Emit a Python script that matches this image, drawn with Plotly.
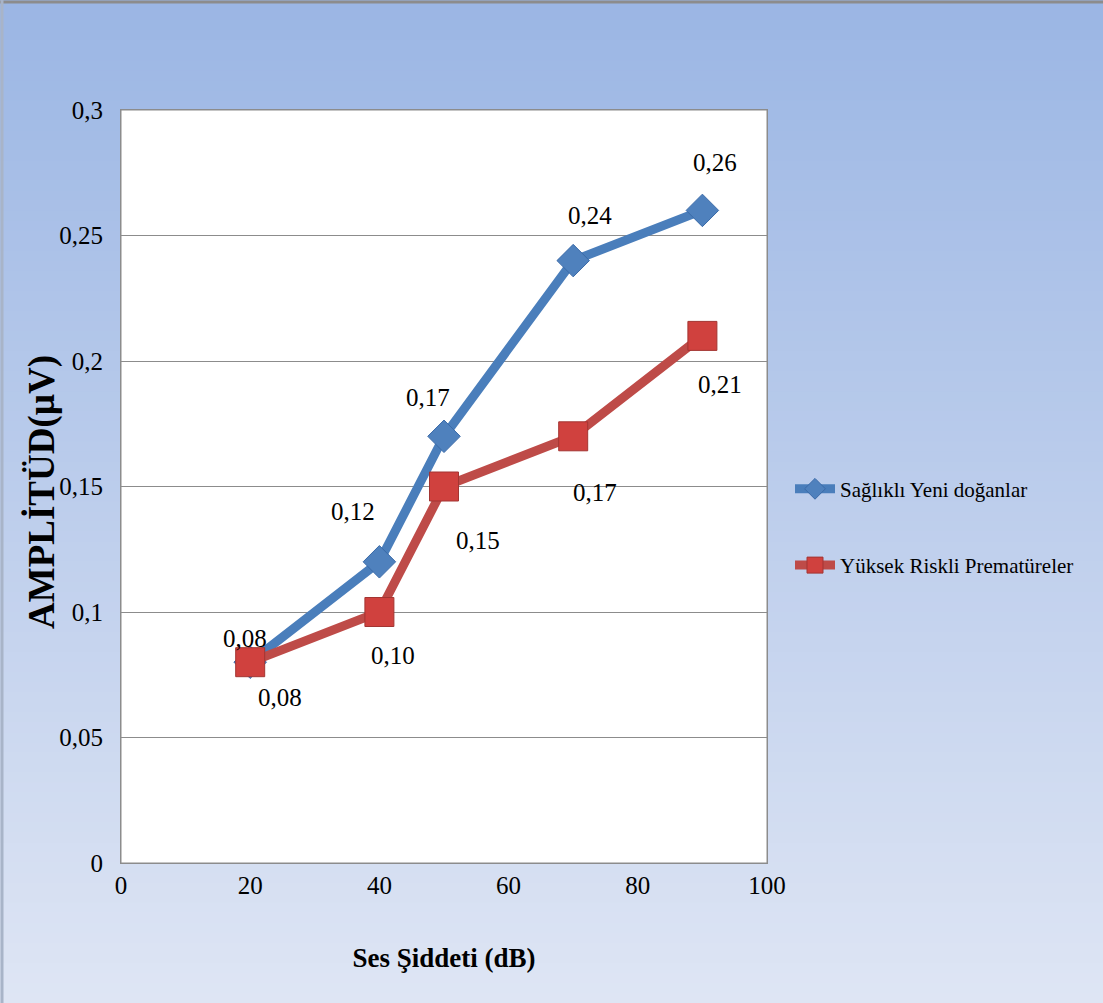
import plotly.graph_objects as go

# Sound intensity levels (dB) and amplitude values (µV)
ses_db = [20, 40, 50, 70, 90]
saglikli = [0.08, 0.12, 0.17, 0.24, 0.26]
prematur = [0.08, 0.10, 0.15, 0.17, 0.21]
y_ticks = [0, 0.05, 0.1, 0.15, 0.2, 0.25, 0.3]
y_tick_text = ["0", "0,05", "0,1", "0,15", "0,2", "0,25", "0,3"]
x_ticks = [0, 20, 40, 60, 80, 100]

name_a = "Sağlıklı Yeni doğanlar"
name_b = "Yüksek Riskli Prematüreler"

W, H = 1103, 1003
L, R, T, B = 121, 336, 110, 140
PW, PH = W - L - R, H - T - B

FONT = "Liberation Serif, Times New Roman, serif"
BLUE = "#4A7EBB"
RED = "#BE4B48"


def fmt(v):
    return f"{v:.2f}".replace(".", ",")


fig = go.Figure()

fig.add_trace(go.Scatter(
    x=ses_db, y=saglikli, name=name_a, mode="lines+markers",
    legendgroup="a",
    line=dict(color=BLUE, width=9),
    marker=dict(symbol="diamond", size=25, color="#4F81BD",
                line=dict(color="#3A6AA8", width=1)),
))
fig.add_trace(go.Scatter(
    x=ses_db, y=prematur, name=name_b, mode="lines+markers",
    legendgroup="b",
    line=dict(color=RED, width=9),
    marker=dict(symbol="square", size=29, color="#D0413E",
                line=dict(color="#A33532", width=1)),
))

# Value labels: healthy series above the points, premature series below-right
shift_a = [(-5, 24), (-26, 50), (-16, 39), (17, 45), (13, 48)]
shift_b = [(30, -35), (14, -43), (34, -54), (22, -56), (18, -49)]
annotations = []
for x, v, (dx, dy) in zip(ses_db, saglikli, shift_a):
    annotations.append(dict(x=x, y=v, xref="x", yref="y", text=fmt(v),
                            showarrow=False, xshift=dx, yshift=dy,
                            font=dict(family=FONT, size=25, color="#000")))
for x, v, (dx, dy) in zip(ses_db, prematur, shift_b):
    annotations.append(dict(x=x, y=v, xref="x", yref="y", text=fmt(v),
                            showarrow=False, xshift=dx, yshift=dy,
                            font=dict(family=FONT, size=25, color="#000")))

# Vertical axis title, placed beside the tick labels
annotations.append(dict(
    x=(42 - L) / PW, y=(H - B - 492) / PH, xref="paper", yref="paper",
    text="<b>AMPLİTÜD(µV)</b>", textangle=-90, showarrow=False,
    xanchor="center", yanchor="middle",
    font=dict(family=FONT, size=37, color="#000"),
))

# Vertical gradient background built from thin horizontal strips
shapes = []
top_c = (155, 182, 228)
bot_c = (222, 229, 244)
n = 100
x0p, x1p = -L / PW, (W - L) / PW
for i in range(n):
    t = i / (n - 1)
    c = tuple(round(top_c[k] + (bot_c[k] - top_c[k]) * t) for k in range(3))
    y_top_px = H * i / n
    y_bot_px = H * (i + 1) / n + 1
    shapes.append(dict(
        type="rect", xref="paper", yref="paper", layer="below",
        x0=x0p, x1=x1p,
        y0=(H - B - y_bot_px) / PH, y1=(H - B - y_top_px) / PH,
        fillcolor=f"rgb{c}", line=dict(width=0),
    ))
# Outer frame edges (top and left)
shapes.append(dict(type="line", xref="paper", yref="paper", layer="below",
                   x0=x0p, x1=x1p, y0=(H - B - 2) / PH, y1=(H - B - 2) / PH,
                   line=dict(color="#8C8C8C", width=3)))
shapes.append(dict(type="line", xref="paper", yref="paper", layer="below",
                   x0=(-L + 2) / PW, x1=(-L + 2) / PW, y0=-B / PH, y1=(H - B) / PH,
                   line=dict(color="#A8B4C8", width=3)))
# White plotting area
shapes.append(dict(type="rect", xref="paper", yref="paper", layer="below",
                   x0=0, x1=1, y0=0, y1=1, fillcolor="white",
                   line=dict(color="#8C8C8C", width=1)))

fig.update_layout(
    width=W, height=H,
    margin=dict(l=L, r=R, t=T, b=B, pad=0),
    paper_bgcolor="#C0D0EC",
    plot_bgcolor="rgba(0,0,0,0)",
    font=dict(family=FONT, size=25, color="#000"),
    shapes=shapes,
    annotations=annotations,
    showlegend=True,
    legend=dict(
        x=(790 - L) / PW, y=0.446, xanchor="left", yanchor="middle",
        bgcolor="rgba(0,0,0,0)",
        font=dict(family=FONT, size=21, color="#000"),
        tracegroupgap=46, itemwidth=40,
    ),
    xaxis=dict(
        range=[0, 100], tickvals=x_ticks, showgrid=False, zeroline=False,
        showline=True, linecolor="#8C8C8C", linewidth=1, mirror=True,
        ticks="", ticklen=0,
        tickfont=dict(family=FONT, size=25),
        title=dict(text="<b>Ses Şiddeti (dB)</b>", standoff=50,
                   font=dict(family=FONT, size=27)),
    ),
    yaxis=dict(
        range=[0, 0.3], tickvals=y_ticks, ticktext=y_tick_text,
        showgrid=True, gridcolor="#8C8C8C", gridwidth=1, zeroline=False,
        showline=True, linecolor="#8C8C8C", linewidth=1, mirror=True,
        ticks="", ticklabelstandoff=12,
        tickfont=dict(family=FONT, size=25),
    ),
)

fig.write_html("out.html")
